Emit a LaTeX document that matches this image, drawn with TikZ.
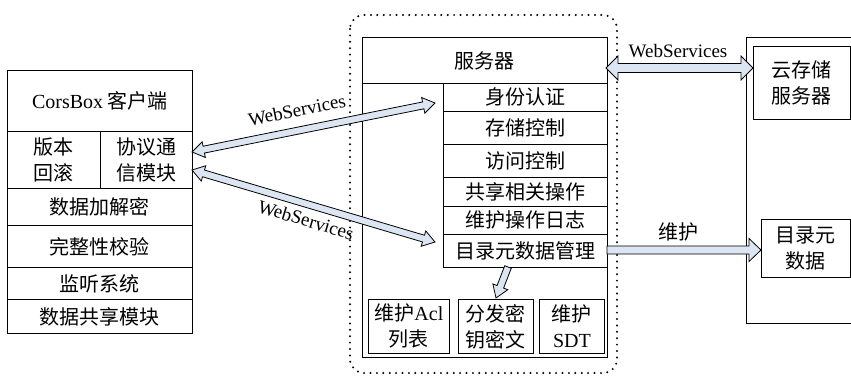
\documentclass[tikz,border=0pt]{standalone}
\usepackage{fontspec}
\setmainfont{Liberation Serif}
\newfontfamily\cjk{Noto Sans CJK SC}
\usetikzlibrary{calc}
\definecolor{arrowfill}{RGB}{220,230,242}
\tikzset{
  box/.style={draw, line width=0.8pt, anchor=north west, inner sep=0pt, align=center,
    font=\cjk\fontsize{20}{26}\selectfont},
  lbl/.style={inner sep=0pt, font=\fontsize{19}{23}\selectfont},
  cjklbl/.style={inner sep=0pt, font=\cjk\fontsize{20}{24}\selectfont},
  arr/.style={draw, line width=0.8pt, fill=arrowfill, line join=miter},
  dotframe/.style={line width=2.2pt, dash pattern=on 0pt off 6.4pt, line cap=round, rounded corners=14pt},
  frame/.style={line width=0.8pt}
}
\newcommand\onearrow[5]{%
  \path ($(#2)!#5!(#1)$) coordinate (hb);
  \path[arr] ($(#1)!#3!90:(#2)$) -- ($(hb)!#3!90:(#2)$) -- ($(hb)!#4!90:(#2)$) -- (#2)
    -- ($(hb)!#4!-90:(#2)$) -- ($(hb)!#3!-90:(#2)$) -- ($(#1)!#3!-90:(#2)$) -- cycle;}
\newcommand\twoarrow[5]{%
  \path ($(#2)!#5!(#1)$) coordinate (hb) ($(#1)!#5!(#2)$) coordinate (ha);
  \path[arr] ($(ha)!#3!90:(#2)$) -- ($(hb)!#3!90:(#2)$) -- ($(hb)!#4!90:(#2)$) -- (#2)
    -- ($(hb)!#4!-90:(#2)$) -- ($(hb)!#3!-90:(#2)$) -- ($(ha)!#3!-90:(#2)$)
    -- ($(ha)!#4!-90:(#2)$) -- (#1) -- ($(ha)!#4!90:(#2)$) -- cycle;}
\begin{document}
\begin{tikzpicture}[x=1pt, y=-1pt]
\useasboundingbox (0,0) rectangle (851,375);
\fill[white] (0,0) rectangle (851,375);

% client
\node[box, minimum width=185pt, minimum height=61pt] (client) at (7,70) {{\rmfamily CorsBox} 客户端};
\node[box, minimum width=93pt, minimum height=57pt] (vb) at (7,131) {版本\\回滚};
\node[box, minimum width=92pt, minimum height=57pt] (xy) at (100,131) {协议通\\信模块};
\node[box, minimum width=185pt, minimum height=37pt] (jm) at (7,188) {数据加解密};
\node[box, minimum width=185pt, minimum height=42pt] (wz) at (7,225) {完整性校验};
\node[box, minimum width=185pt, minimum height=32pt] (jt) at (7,267) {监听系统};
\node[box, minimum width=185pt, minimum height=34pt] (gx) at (7,299) {数据共享模块};

% dotted frame
\draw[dotframe] (350,15) rectangle (617,373);

% server
\node[box, minimum width=245pt, minimum height=320pt] (server) at (362,37) {};
\node[box, minimum width=245pt, minimum height=46pt] (srvtitle) at (362,37) {服务器};
\node[box, minimum width=164pt, minimum height=28pt] (sf) at (443,83) {身份认证};
\node[box, minimum width=164pt, minimum height=33pt] (cc) at (443,111) {存储控制};
\node[box, minimum width=164pt, minimum height=33pt] (fw) at (443,144) {访问控制};
\node[box, minimum width=164pt, minimum height=29pt] (gxc) at (443,177) {共享相关操作};
\node[box, minimum width=164pt, minimum height=28pt] (rz) at (443,206) {维护操作日志};
\node[box, minimum width=164pt, minimum height=33pt] (ml) at (443,234) {目录元数据管理};
\node[box, minimum width=81pt, minimum height=54pt] (acl) at (368,299) {维护{\rmfamily Acl}\\列表};
\node[box, minimum width=75pt, minimum height=54pt] (ff) at (458,299) {分发密\\钥密文};
\node[box, minimum width=65pt, minimum height=54pt] (sdt) at (539,299) {维护\\{\rmfamily SDT}};

% right side
\draw[frame] (860,37) -- (746,37) -- (746,323) -- (860,323);
\node[box, minimum width=97pt, minimum height=73pt] (cloud) at (753,46) {云存储\\服务器};
\node[box, minimum width=89pt, minimum height=58pt] (meta) at (761,219) {目录元\\数据};

% arrows
\coordinate (c1) at (192,152);
\coordinate (s1) at (435,103);
\coordinate (c2) at (192,170);
\coordinate (s2) at (435,242);
\coordinate (r1) at (606,68);
\coordinate (r2) at (753,68);
\coordinate (m1) at (607,250);
\coordinate (m2) at (761,250);
\coordinate (d1) at (508,267);
\coordinate (d2) at (496,298);
\twoarrow{c1}{s1}{3.5pt}{8pt}{12pt}
\twoarrow{c2}{s2}{3.5pt}{8pt}{12pt}
\twoarrow{r1}{r2}{4.5pt}{12pt}{12pt}
\onearrow{m1}{m2}{4pt}{11.5pt}{12pt}
\onearrow{d1}{d2}{3.5pt}{8pt}{12pt}

% labels
\node[lbl, rotate=11.4] (ws1) at (297,110) {WebServices};
\node[lbl, rotate=-16.5] (ws2) at (306,220) {WebServices};
\node[lbl] (ws3) at (678,51) {WebServices};
\node[cjklbl] (wh) at (678,232) {维护};
\end{tikzpicture}
\end{document}
